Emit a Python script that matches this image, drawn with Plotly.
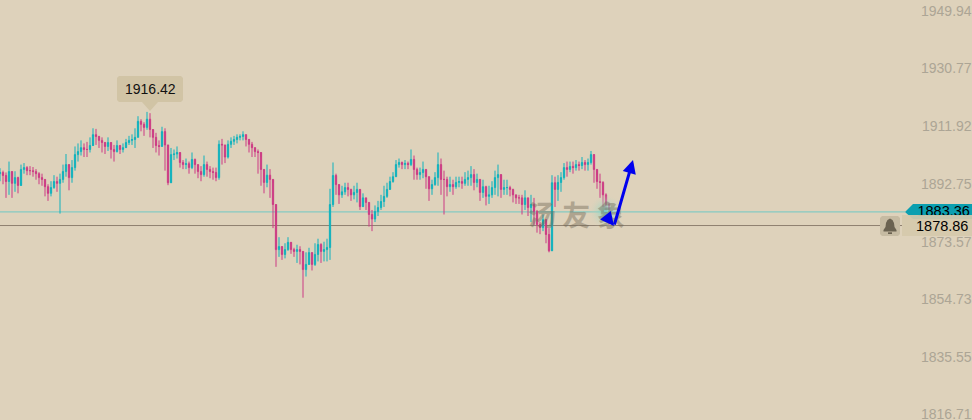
import plotly.graph_objects as go

closes = [
 1896.4,1895.4,1893.4,1896.7,1892.8,1894.7,1892.1,1897.4,1898.0,1897.0,
 1897.0,1896.7,1896.0,1894.7,1894.1,1891.7,1889.5,1891.4,1893.4,1892.8,
 1894.1,1896.7,1899.0,1894.7,1898.0,1902.3,1903.3,1904.6,1904.0,1904.0,
 1905.3,1908.9,1908.3,1907.0,1906.3,1905.0,1906.3,1904.0,1903.3,1905.3,
 1904.0,1904.6,1906.3,1907.0,1907.3,1908.0,1913.3,1912.3,1911.3,1914.0,
 1910.6,1908.0,1905.3,1905.0,1909.9,1905.5,1893.0,1902.3,1902.5,1903.0,
 1899.7,1899.0,1899.3,1898.0,1900.7,1899.0,1896.7,1895.7,1899.0,1897.4,
 1896.7,1896.4,1894.7,1905.7,1905.5,1901.5,1905.7,1906.7,1907.3,1908.0,
 1908.3,1908.9,1907.3,1905.7,1904.6,1903.3,1903.0,1897.4,1893.1,1895.5,
 1894.1,1885.8,1870.9,1871.9,1869.3,1870.9,1873.3,1870.9,1870.3,1870.9,
 1870.3,1864.3,1866.0,1869.9,1866.0,1869.3,1872.6,1870.3,1870.9,1871.6,
 1885.8,1895.4,1892.4,1889.0,1890.0,1891.4,1890.8,1889.0,1889.8,1890.8,
 1885.1,1888.0,1886.5,1882.5,1881.0,1883.5,1884.8,1886.8,1888.5,1890.8,
 1893.4,1895.0,1899.0,1899.7,1899.0,1899.4,1899.0,1900.7,1897.4,1895.7,
 1896.4,1897.4,1895.0,1891.0,1892.4,1894.7,1899.0,1894.1,1894.1,1891.7,
 1892.4,1891.7,1893.1,1893.4,1892.8,1894.1,1894.7,1895.7,1893.1,1894.1,
 1889.8,1891.7,1888.5,1889.0,1891.4,1894.7,1895.7,1890.8,1891.4,1891.4,
 1890.8,1889.0,1888.0,1888.0,1885.8,1888.0,1884.8,1885.8,1883.5,1879.2,
 1878.2,1880.8,1875.9,1870.5,1893.0,1890.8,1893.1,1894.7,1898.0,1897.4,
 1898.4,1898.0,1899.0,1898.7,1899.7,1899.0,1899.7,1902.3,1897.4,1893.4,
 1893.1,1889.0,1885.8,1883.36]
highs = [
 1897.8,1897.0,1896.4,1900.0,1895.4,1896.8,1895.0,1899.0,1899.5,1898.5,
 1898.5,1898.2,1897.5,1896.5,1896.0,1894.0,1892.5,1893.5,1895.5,1895.0,
 1896.0,1899.0,1902.5,1898.0,1900.5,1905.0,1906.0,1907.0,1906.0,1906.5,
 1908.0,1911.0,1910.8,1908.5,1908.0,1906.5,1908.0,1906.0,1905.5,1907.0,
 1905.5,1906.0,1907.5,1908.5,1909.0,1911.0,1915.0,1914.0,1913.0,1916.42,
 1916.0,1910.0,1909.5,1907.0,1911.5,1911.0,1905.5,1904.5,1904.0,1905.0,
 1902.0,1900.5,1901.0,1900.0,1903.0,1901.0,1899.0,1898.5,1902.0,1900.0,
 1898.5,1898.0,1898.0,1907.0,1907.5,1905.5,1907.0,1908.0,1908.5,1909.0,
 1909.0,1910.0,1908.8,1907.5,1906.5,1904.5,1904.0,1901.5,1897.0,1899.0,
 1897.5,1893.0,1880.0,1875.0,1872.0,1873.0,1875.0,1873.0,1871.5,1872.5,
 1872.0,1868.5,1870.0,1871.5,1870.0,1873.0,1874.5,1873.0,1873.5,1874.5,
 1891.0,1899.7,1896.0,1891.0,1892.0,1893.0,1893.0,1891.0,1892.0,1893.0,
 1889.0,1889.5,1888.0,1885.0,1884.0,1885.5,1887.0,1889.0,1892.0,1893.0,
 1895.0,1896.5,1900.5,1901.0,1900.0,1900.5,1900.0,1904.0,1902.0,1898.0,
 1898.0,1900.0,1897.5,1894.0,1894.0,1896.5,1903.0,1901.0,1897.0,1895.0,
 1895.0,1894.0,1895.0,1895.0,1895.0,1896.5,1897.0,1898.5,1897.5,1896.0,
 1894.0,1894.0,1892.0,1892.0,1893.5,1897.0,1899.0,1894.0,1894.0,1894.0,
 1892.0,1891.0,1889.0,1889.0,1889.0,1890.5,1888.0,1889.0,1888.0,1884.0,
 1880.0,1882.5,1879.0,1878.0,1895.5,1895.0,1895.5,1896.5,1899.5,1900.0,
 1900.0,1900.0,1900.5,1900.0,1901.5,1900.5,1901.0,1903.5,1902.5,1895.5,
 1896.0,1893.5,1889.5,1886.5]
lows = [
 1893.5,1892.5,1888.0,1889.0,1888.0,1890.0,1889.5,1893.0,1896.0,1895.5,
 1895.5,1895.0,1894.0,1892.5,1892.0,1888.5,1887.0,1888.5,1891.0,1890.0,
 1882.8,1893.0,1895.0,1890.5,1893.0,1897.0,1900.0,1902.0,1901.5,1901.5,
 1903.0,1906.0,1905.5,1904.5,1903.0,1902.5,1903.5,1901.0,1900.0,1903.0,
 1902.5,1903.0,1904.5,1905.5,1905.5,1904.5,1908.0,1910.0,1908.5,1910.5,
 1908.0,1904.5,1903.0,1902.0,1905.0,1897.0,1892.2,1894.0,1900.5,1901.0,
 1898.0,1897.5,1897.5,1896.0,1897.5,1896.0,1894.5,1893.5,1895.0,1895.0,
 1894.5,1894.0,1893.5,1894.0,1899.0,1899.5,1901.0,1904.5,1905.5,1906.0,
 1907.0,1907.0,1905.0,1903.0,1901.5,1901.5,1896.0,1892.0,1889.5,1891.5,
 1888.0,1878.0,1865.2,1868.5,1867.5,1868.0,1870.5,1869.5,1868.5,1866.5,
 1866.0,1855.0,1862.0,1866.5,1864.0,1865.5,1867.0,1866.5,1867.0,1867.0,
 1867.5,1885.0,1889.0,1886.0,1888.0,1889.0,1888.5,1887.0,1887.5,1886.5,
 1884.0,1885.0,1884.0,1878.5,1877.0,1880.0,1882.0,1884.0,1885.0,1888.0,
 1891.0,1893.0,1895.0,1898.0,1897.5,1897.5,1897.5,1898.5,1894.0,1894.0,
 1894.0,1894.5,1891.0,1887.0,1889.0,1892.0,1892.0,1889.0,1882.5,1888.5,
 1890.0,1889.0,1891.0,1891.5,1891.0,1892.0,1892.0,1892.0,1890.5,1891.5,
 1887.0,1888.0,1885.5,1886.0,1888.0,1889.0,1888.5,1888.0,1889.0,1889.0,
 1888.5,1886.5,1886.0,1886.0,1882.5,1884.0,1882.0,1880.0,1879.0,1876.5,
 1876.0,1877.0,1873.0,1870.0,1871.0,1885.0,1887.0,1890.0,1894.0,1895.0,
 1896.5,1896.0,1897.0,1897.0,1897.5,1897.0,1897.0,1899.0,1893.0,1891.0,
 1888.0,1885.0,1883.0,1879.0]
opens = [1896.0] + closes[:-1]

tick_vals = [1949.94, 1930.77, 1911.92, 1892.75, 1873.57, 1854.73, 1835.55, 1816.71]
tick_text = ["1949.94", "1930.77", "1911.92", "1892.75", "1873.57", "1854.73", "1835.55", "1816.71"]
last_price = 1883.36
alert_price = 1878.86
peak_label = "1916.42"
watermark = "汤 友 象"

W, H = 972, 420
def px(x): return x / W
def py(y): return 1 - y / H
def path(points):
    return "M " + " L ".join(f"{px(x):.5f},{py(y):.5f}" for x, y in points) + " Z"

xs = list(range(len(closes)))
fig = go.Figure()
fig.add_trace(go.Candlestick(
    x=xs, open=opens, high=highs, low=lows, close=closes,
    increasing=dict(line=dict(color="#0fb2bd", width=1), fillcolor="#0fb2bd"),
    decreasing=dict(line=dict(color="#cc3b84", width=1), fillcolor="#cc3b84"),
    whiskerwidth=0, hoverinfo="skip", showlegend=False))
# glow behind the latest price
fig.add_trace(go.Scatter(
    x=[len(closes) - 2], y=[last_price], mode="markers", hoverinfo="skip", showlegend=False,
    marker=dict(size=36, color="rgba(222,210,187,0)", line=dict(width=0),
                gradient=dict(type="radial", color="rgba(110,215,200,0.9)"))))
# latest price label, drawn under the alert box
fig.add_trace(go.Scatter(
    x=[323.3], y=[last_price], mode="text", text=[f"{last_price:.2f}"], textposition="middle left",
    textfont=dict(family="Liberation Sans", size=14.5, color="#000000"),
    hoverinfo="skip", showlegend=False))

shapes = [
    dict(type="line", xref="paper", x0=0, x1=px(905), yref="y", y0=last_price, y1=last_price,
         line=dict(color="#6fc8c4", width=1), layer="below"),
    dict(type="line", xref="paper", x0=0, x1=px(902), yref="y", y0=alert_price, y1=alert_price,
         line=dict(color="#8f8070", width=1), layer="below"),
    dict(type="path", xref="paper", yref="paper", path=path([(905, 212), (913, 204), (972, 204), (972, 219), (913, 219)]),
         fillcolor="#0b9fb0", line=dict(width=0), layer="below"),
    dict(type="path", xref="paper", yref="paper", path=path([(902, 215), (972, 215), (972, 236), (902, 236)]),
         fillcolor="rgba(213,201,172,0.93)", line=dict(width=0), layer="above"),
    # peak tooltip
    dict(type="path", xref="paper", yref="paper",
         path=path([(119, 76), (181, 76), (183, 78), (183, 100), (181, 102), (158, 102), (150, 111),
                    (142, 102), (119, 102), (117, 100), (117, 78)]),
         fillcolor="#d1c4a5", line=dict(width=0), layer="above"),
    # bell button
    dict(type="path", xref="paper", yref="paper",
         path=path([(882, 216), (898, 216), (900, 218), (900, 234), (898, 236), (882, 236), (880, 234), (880, 218)]),
         fillcolor="#c6bba2", line=dict(width=0), layer="above"),
    dict(type="path", xref="paper", yref="paper",
         path=path([(890, 218.5), (892.5, 220), (894, 223), (894.5, 227), (896.5, 230), (896.5, 231.5),
                    (883.5, 231.5), (883.5, 230), (885.5, 227), (886, 223), (887.5, 220)]),
         fillcolor="#6a6250", line=dict(width=0), layer="above"),
    dict(type="rect", xref="paper", yref="paper", x0=px(888), x1=px(892), y0=py(234), y1=py(232.3),
         fillcolor="#6a6250", line=dict(width=0), layer="above"),
]

annotations = [
    dict(xref="paper", yref="y", x=1, y=v, xanchor="right", yanchor="middle", xshift=2, text=t, showarrow=False,
         font=dict(family="Liberation Sans", size=14, color="#aca595"))
    for v, t in zip(tick_vals, tick_text)
] + [
    dict(xref="paper", yref="paper", x=px(150), y=py(89), xanchor="center", yanchor="middle", text=peak_label, showarrow=False,
         font=dict(family="Liberation Sans", size=14, color="#111111")),
    dict(xref="paper", yref="paper", x=px(970), y=py(226), xanchor="right", yanchor="middle", text=f"{alert_price:.2f}", showarrow=False,
         font=dict(family="Liberation Sans", size=14.5, color="#000000")),
    dict(xref="paper", yref="paper", x=px(576), y=py(214), xanchor="center", yanchor="middle", text="<b>" + watermark + "</b>", showarrow=False, opacity=0.42,
         font=dict(family="Noto Sans CJK SC", size=28, color="#6f6654")),
    # hand-drawn blue arrows
    dict(xref="paper", yref="paper", x=px(614), y=py(226), ax=-8, ay=-10,
         showarrow=True, arrowhead=2, arrowsize=1.1, arrowwidth=2.5, arrowcolor="#0000ee", text=""),
    dict(xref="paper", yref="paper", x=px(633), y=py(160), ax=-19, ay=66,
         showarrow=True, arrowhead=2, arrowsize=0.9, arrowwidth=3, arrowcolor="#0000ee", text=""),
]

fig.update_layout(
    width=W, height=H, margin=dict(l=0, r=0, t=0, b=0),
    paper_bgcolor="#ded2bb", plot_bgcolor="#ded2bb", boxgap=0.4,
    shapes=shapes, annotations=annotations, showlegend=False,
    xaxis=dict(range=[0, W / 3], visible=False, rangeslider=dict(visible=False), fixedrange=True),
    yaxis=dict(range=[1814.57, 1953.41], visible=False, fixedrange=True),
)
fig.write_html("out.html", config=dict(displayModeBar=False),
               post_script="document.body.style.margin='0';document.body.style.overflow='hidden';")
